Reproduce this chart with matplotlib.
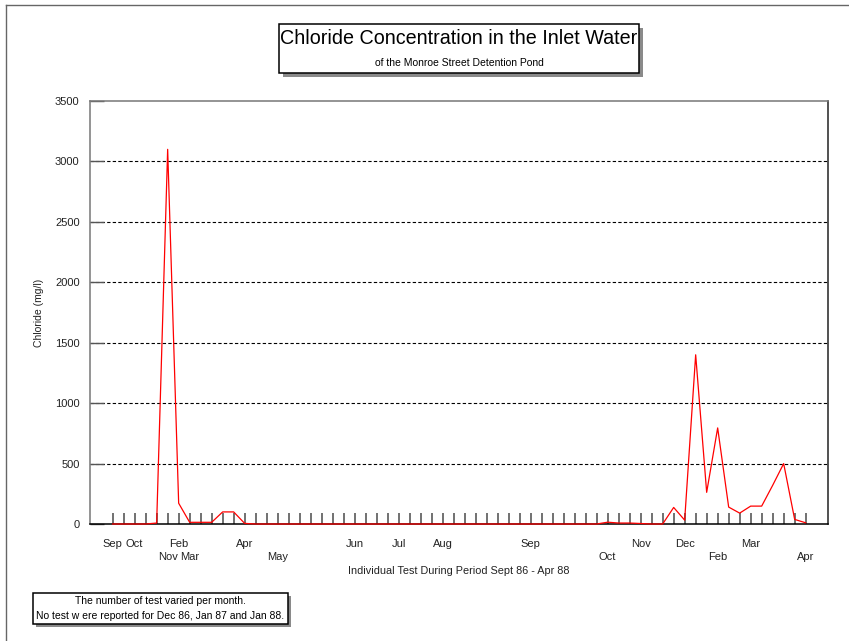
import matplotlib

matplotlib.use("Agg")
import matplotlib.pyplot as plt
import matplotlib.patches as mpatches
from matplotlib.lines import Line2D

plt.rcParams["font.family"] = ["Liberation Sans", "DejaVu Sans"]

# ---------------------------------------------------------------------------
# Data: one point per individual test (64 tests, Sep 86 - Apr 88)
# ---------------------------------------------------------------------------

chloride = [
    0, 0, 0, 0, 8, 3100, 172, 14, 14, 14,
    100, 100, 5, 0, 0, 0, 0, 0, 0, 0,
    0, 0, 0, 0, 0, 0, 0, 0, 0, 0,
    0, 0, 0, 0, 0, 0, 0, 0, 0, 0,
    0, 0, 0, 0, 0, 15, 8, 8, 4, 0,
    0, 137, 32, 1400, 262, 795, 140, 90, 148, 148,
    320, 500, 38, 10,
]

# month label at the index of the test where that month starts
month_index = [0, 2, 5, 6, 7, 12, 15, 22, 26, 30, 38, 45, 48, 52, 55, 58, 63]
month_names = ["Sep", "Oct", "Nov", "Feb", "Mar", "Apr", "May", "Jun", "Jul",
               "Aug", "Sep", "Oct", "Nov", "Dec", "Feb", "Mar", "Apr"]

y_ticks = [0, 500, 1000, 1500, 2000, 2500, 3000, 3500]

W, H = 849, 641


def fx(px):
    return px / W


def fy(py):
    return 1 - py / H


def shadow_box(fig, x0, y0, x1, y1, off=3.5):
    # gray drop shadow, then white box with black edge (pixel coords)
    fig.add_artist(mpatches.Rectangle(
        (fx(x0 + off), fy(y1 + off)), fx(x1 - x0), (y1 - y0) / H,
        transform=fig.transFigure, facecolor="#8a8a8a", edgecolor="none"))
    fig.add_artist(mpatches.Rectangle(
        (fx(x0), fy(y1)), fx(x1 - x0), (y1 - y0) / H,
        transform=fig.transFigure, facecolor="white", edgecolor="black",
        linewidth=1.1))


fig = plt.figure(figsize=(W / 100, H / 100), dpi=100)
ax = fig.add_axes([fx(90), fy(524), fx(828 - 90), (524 - 101) / H])

n = len(chloride)
x = list(range(n))
ax.plot(x, chloride, color="red", linewidth=0.9, zorder=5, clip_on=False)

ax.set_xlim(-2.06, n - 1 + 2.03)
ax.set_ylim(0, 3500)

# ticks at every test; labels staggered on two rows (even = major, odd = minor)
even_x = [i for i in x if i % 2 == 0]
odd_x = [i for i in x if i % 2 == 1]
lab = dict(zip(month_index, month_names))
ax.set_xticks(even_x)
ax.set_xticklabels([lab.get(i, "") for i in even_x], fontsize=8, color="#222222")
ax.set_xticks(odd_x, minor=True)
ax.set_xticklabels([lab.get(i, "") for i in odd_x], minor=True, fontsize=8,
                   color="#222222")
ax.tick_params(axis="x", which="both", direction="in", length=8, width=1.3,
               color="#666666")
ax.tick_params(axis="x", which="major", pad=10.5)
ax.tick_params(axis="x", which="minor", pad=20)

ax.set_yticks(y_ticks)
ax.set_yticklabels([str(v) for v in y_ticks], fontsize=8, color="#222222")
ax.tick_params(axis="y", direction="in", length=10, width=1.0,
               color="#555555", pad=7.5)

for v in y_ticks[1:-1]:
    ax.axhline(v, color="black", linewidth=0.8, linestyle=(0, (3, 2)), zorder=1)

ax.spines["left"].set_color("#777777")
ax.spines["top"].set_color("#777777")
ax.spines["right"].set_color("#222222")
ax.spines["bottom"].set_color("black")
for s in ax.spines.values():
    s.set_linewidth(1.1)

ax.set_ylabel("Chloride (mg/l)", fontsize=7.5, color="#222222", labelpad=8)
ax.set_xlabel("Individual Test During Period Sept 86 - Apr 88", fontsize=7.8,
              color="#222222", labelpad=3)

# page border (top and left)
fig.add_artist(Line2D([fx(6), 1], [fy(5), fy(5)], transform=fig.transFigure,
                      color="#666666", linewidth=1))
fig.add_artist(Line2D([fx(6), fx(6)], [fy(5), 0], transform=fig.transFigure,
                      color="#666666", linewidth=1))

# title box
shadow_box(fig, 279, 24, 639, 73)
fig.text(fx(459), fy(38.5), "Chloride Concentration in the Inlet Water",
         ha="center", va="center", fontsize=14.2, color="black")
fig.text(fx(459), fy(62.5), "of the Monroe Street Detention Pond",
         ha="center", va="center", fontsize=7.5, color="black")

# footnote box
shadow_box(fig, 33, 593, 288, 624, off=3)
fig.text(fx(160), fy(601), "The number of test varied per month.",
         ha="center", va="center", fontsize=7.5, color="black")
fig.text(fx(160), fy(616), "No test w ere reported for Dec 86, Jan 87 and Jan 88.",
         ha="center", va="center", fontsize=7.5, color="black")

fig.savefig("out.png", dpi=100)
